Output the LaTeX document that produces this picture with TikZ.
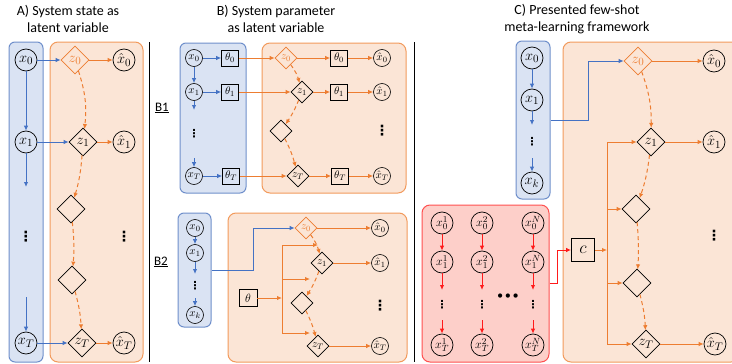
\documentclass[tikz,border=0pt]{standalone}
\usepackage{fontspec}
\setmainfont{Carlito}
\newfontfamily\symfont{DejaVu Sans}
\usetikzlibrary{arrows.meta,shapes.geometric}

\definecolor{bfill}{HTML}{DAE3F3}
\definecolor{bborder}{HTML}{6F8FCB}
\definecolor{barrow}{HTML}{4472C4}
\definecolor{ofill}{HTML}{FBE5D6}
\definecolor{oborder}{HTML}{F29A5C}
\definecolor{oarrow}{HTML}{ED7D31}
\definecolor{rfill}{HTML}{FDCFC9}
\definecolor{rborder}{HTML}{FF5050}
\definecolor{rarrow}{HTML}{FF1A1A}

\tikzset{
  ttl/.style={font=\fontsize{14}{16.5}\selectfont, align=center, inner sep=0pt},
  tag/.style={font=\fontsize{13}{13}\selectfont, inner sep=0pt},
  bluebox/.style={rounded corners=6pt, fill=bfill, draw=bborder, line width=1pt, inner sep=0pt},
  orangebox/.style={rounded corners=8pt, fill=ofill, draw=oborder, line width=1pt, inner sep=0pt},
  redbox/.style={rounded corners=8pt, fill=rfill, draw=rborder, line width=1pt, inner sep=0pt},
  cbig/.style={circle, draw, line width=0.7pt, minimum size=22pt, inner sep=0pt, font=\fontsize{15}{15}\selectfont},
  csmall/.style={circle, draw, line width=0.6pt, minimum size=17pt, inner sep=0pt, font=\fontsize{11}{11}\selectfont},
  dbig/.style={diamond, draw, line width=0.7pt, minimum size=28pt, inner sep=0pt, font=\fontsize{15}{15}\selectfont},
  dsmall/.style={diamond, draw, line width=0.6pt, minimum size=22pt, inner sep=0pt, font=\fontsize{11}{11}\selectfont},
  zfirst/.style={draw=oarrow, text=oarrow},
  sqsmall/.style={rectangle, draw, line width=0.7pt, minimum width=17pt, minimum height=16pt, inner sep=0pt, font=\fontsize{11}{11}\selectfont},
  vdot/.style={font=\symfont\bfseries\fontsize{14}{14}\selectfont, inner sep=0pt},
  vdots/.style={font=\symfont\bfseries\fontsize{11}{11}\selectfont, inner sep=0pt},
  tip/.style={-{Latex[length=5pt,width=4.5pt]}},
  barr/.style={draw=barrow, line width=1pt, tip},
  oarr/.style={draw=oarrow, line width=1pt, tip},
  rarr/.style={draw=rarrow, line width=1pt, tip},
  odash/.style={oarr, dash pattern=on 4pt off 3pt},
  sep/.style={draw=black, line width=1pt},
  rnode/.style={cbig, font=\fontsize{12.5}{12.5}\selectfont},
}

\begin{document}
\begin{tikzpicture}[x=1pt, y=-1pt]
\useasboundingbox (0,0) rectangle (732,364);

% ---------- titles ----------
\node[ttl] (tA) at (68,19) {A) System state as\\latent variable};
\node[ttl] (tB) at (276,19) {B) System parameter\\as latent variable};
\node[ttl] (tC) at (577,19) {C) Presented few-shot\\meta-learning framework};

% ---------- separators ----------
\coordinate (s1a) at (149,42); \coordinate (s1b) at (149,362);
\coordinate (s2a) at (414,42); \coordinate (s2b) at (414,362);
\draw[sep] (s1a) -- (s1b);
\draw[sep] (s2a) -- (s2b);

% ---------- group boxes ----------
\node[bluebox, minimum width=34pt, minimum height=320pt] (bA) at (26,202) {};
\node[orangebox, minimum width=93pt, minimum height=320pt] (oA) at (96.5,202) {};
\node[bluebox, minimum width=66pt, minimum height=150pt] (bB1) at (213,118) {};
\node[orangebox, minimum width=144pt, minimum height=150pt] (oB1) at (334,118) {};
\node[bluebox, minimum width=33pt, minimum height=114pt] (bB2) at (194.5,270) {};
\node[orangebox, minimum width=179pt, minimum height=149pt] (oB2) at (317.5,287.5) {};
\node[bluebox, minimum width=34pt, minimum height=158pt] (bC) at (533,120) {};
\node[orangebox, minimum width=176pt, minimum height=320pt] (oC) at (651,202) {};
\node[redbox, minimum width=127pt, minimum height=157pt] (rC) at (485.5,283.5) {};

% ---------- panel labels ----------
\node[tag] (lB1) at (162,108) {\underline{B1}};
\node[tag] (lB2) at (161,262) {\underline{B2}};

% ================= A) =================
\node[cbig] (xA0) at (26,60) {$x_0$};
\node[cbig] (xA1) at (26,142) {$x_1$};
\node[cbig] (xAT) at (26,343) {$x_T$};
\node[vdot] (vA1) at (26,237) {⋮};
\coordinate (aA1) at (26,187);
\coordinate (aA2) at (26,297);

\node[dbig, zfirst] (zA0) at (75,60) {$z_0$};
\node[dbig] (zA1) at (83,142) {$z_1$};
\node[dbig] (dA1) at (71,209) {};
\node[dbig] (dA2) at (72,280) {};
\node[dbig] (zAT) at (82,343) {$z_T$};

\node[cbig] (hA0) at (124,60) {$\hat{x}_0$};
\node[cbig] (hA1) at (124,142) {$\hat{x}_1$};
\node[cbig] (hAT) at (124,343) {$\hat{x}_T$};
\node[vdot] (vA2) at (124,237) {⋮};

\draw[barr] (xA0) -- (xA1);
\draw[barr] (xA1) -- (aA1);
\draw[barr] (aA2) -- (xAT);
\draw[barr] (xA0) -- (zA0);
\draw[barr] (xA1) -- (zA1);
\draw[barr] (xAT) -- (zAT);
\draw[oarr] (zA0) -- (hA0);
\draw[oarr] (zA1) -- (hA1);
\draw[oarr] (zAT) -- (hAT);
\draw[odash] (zA0) to[bend left=12] (zA1);
\draw[odash] (zA1) to[bend left=6] (dA1);
\draw[odash] (dA1) to[bend left=5] (dA2);
\draw[odash] (dA2) to[bend left=6] (zAT);

% ================= B1 =================
\node[csmall] (xB0) at (194,58) {$x_0$};
\node[csmall] (xB1) at (194,92) {$x_1$};
\node[csmall] (xBT) at (194,176) {$x_T$};
\node[vdots] (vB1) at (194,134) {⋮};
\coordinate (aB1) at (194,110);
\coordinate (aB2) at (194,158);
\node[sqsmall] (tB0) at (230,58) {$\theta_0$};
\node[sqsmall] (tB1) at (230,92) {$\theta_1$};
\node[sqsmall] (tBT) at (231,176) {$\theta_T$};

\node[dsmall, zfirst] (zB0) at (286,58) {$z_0$};
\node[dsmall] (zB1) at (302,92) {$z_1$};
\node[dsmall] (dB1) at (281,131) {};
\node[dsmall] (zBT) at (298,176) {$z_T$};
\node[sqsmall] (pB0) at (339,58) {$\theta_0$};
\node[sqsmall] (pB1) at (339,92) {$\theta_1$};
\node[sqsmall] (pBT) at (340,176) {$\theta_T$};
\node[csmall] (hB0) at (382,58) {$\hat{x}_0$};
\node[csmall] (hB1) at (382,92) {$\hat{x}_1$};
\node[csmall] (hBT) at (382,176) {$\hat{x}_T$};
\node[vdot] (vB2) at (382,131) {⋮};

\draw[barr] (xB0) -- (xB1);
\draw[barr] (xB1) -- (aB1);
\draw[barr] (aB2) -- (xBT);
\draw[barr] (xB0) -- (tB0);
\draw[barr] (xB1) -- (tB1);
\draw[barr] (xBT) -- (tBT);
\draw[oarr] (tB0) -- (zB0);
\draw[oarr] (tB1) -- (zB1);
\draw[oarr] (tBT) -- (zBT);
\draw[oarr] (zB0) -- (pB0);
\draw[oarr] (zB1) -- (pB1);
\draw[oarr] (zBT) -- (pBT);
\draw[oarr] (pB0) -- (hB0);
\draw[oarr] (pB1) -- (hB1);
\draw[oarr] (pBT) -- (hBT);
\draw[odash] (zB0) to[bend left=10] (zB1);
\draw[odash] (zB1) to[bend left=6] (dB1);
\draw[odash] (dB1) to[bend left=6] (zBT);

% ================= B2 =================
\node[csmall] (yB0) at (195,228) {$x_0$};
\node[csmall] (yB1) at (195,253) {$x_1$};
\node[vdots] (vB3) at (195,286) {⋮};
\node[csmall] (yBk) at (195,315) {$x_k$};
\coordinate (aB3) at (195,274);
\coordinate (aB4) at (195,298);

\node[dsmall, zfirst] (zC0) at (306,228) {$z_0$};
\node[dsmall] (zC1) at (322,263) {$z_1$};
\node[dsmall] (dC1) at (302,303) {};
\node[dsmall] (zCT) at (318,346) {$z_T$};
\node[csmall] (hC0) at (380,228) {$\hat{x}_0$};
\node[csmall] (hC1) at (380,263) {$\hat{x}_1$};
\node[csmall] (hCT) at (380,346) {$\hat{x}_T$};
\node[vdot] (vB4) at (380,306) {⋮};
\node[sqsmall, minimum width=18pt, minimum height=17pt, font=\fontsize{13}{13}\selectfont] (thB) at (248,298) {$\theta$};

\coordinate (kB2) at (253,270);
\coordinate (tkB) at (282,333);
\coordinate (eB1) at (318,245);
\coordinate (eB2) at (310,279);
\coordinate (eB3) at (310,333);

\draw[barr] (yB0) -- (yB1);
\draw[barr] (yB1) -- (aB3);
\draw[barr] (aB4) -- (yBk);
\draw[barr] (bB2.east) -- (kB2) |- (zC0.west);
\draw[oarr] (thB.east) -- (thB.east -| tkB);
\draw[oarr] (tkB) |- (eB1);
\draw[oarr] (tkB |- eB2) -- (eB2);
\draw[oarr] (tkB) -- (eB3);
\draw[oarr] (zC0) -- (hC0);
\draw[oarr] (zC1) -- (hC1);
\draw[oarr] (zCT) -- (hCT);
\draw[odash] (zC0) to[bend left=10] (zC1);
\draw[odash] (zC1) to[bend left=6] (dC1);
\draw[odash] (dC1) to[bend left=6] (zCT);

% ================= C) =================
\node[cbig] (xD0) at (532,58) {$x_0$};
\node[cbig] (xD1) at (532,100) {$x_1$};
\node[vdots] (vC1) at (532,142) {⋮};
\node[cbig] (xDk) at (532,183) {$x_k$};
\coordinate (aC1) at (532,125);
\coordinate (aC2) at (532,158);

\node[dbig, zfirst] (zD0) at (638,61) {$z_0$};
\node[dbig] (zD1) at (651,142) {$z_1$};
\node[dbig] (dD1) at (636,209) {};
\node[dbig] (dD2) at (637,283) {};
\node[dbig] (zDT) at (646,344) {$z_T$};
\node[cbig] (hD0) at (714,61) {$\hat{x}_0$};
\node[cbig] (hD1) at (714,142) {$\hat{x}_1$};
\node[cbig] (hDT) at (715,344) {$\hat{x}_T$};
\node[vdot] (vC2) at (714,236) {⋮};

\node[rectangle, draw, line width=0.8pt, minimum size=23pt, inner sep=0pt, font=\fontsize{17}{17}\selectfont] (cD) at (583,250) {$c$};

\coordinate (kC) at (588,120);
\coordinate (tkD) at (607,344);

\draw[barr] (xD0) -- (xD1);
\draw[barr] (xD1) -- (aC1);
\draw[barr] (aC2) -- (xDk);
\draw[barr] (bC.east) -- (kC) |- (zD0.west);
\draw[oarr] (cD.east) -- (cD.east -| tkD);
\draw[oarr] (tkD) |- (zD1.west);
\draw[oarr] (tkD |- dD1) -- (dD1.west);
\draw[oarr] (tkD |- dD2) -- (dD2.west);
\draw[oarr] (tkD) -- (zDT.west);
\draw[oarr] (zD0) -- (hD0);
\draw[oarr] (zD1) -- (hD1);
\draw[oarr] (zDT) -- (hDT);
\draw[odash] (zD0) to[bend left=10] (zD1);
\draw[odash] (zD1) to[bend left=6] (dD1);
\draw[odash] (dD1) to[bend left=4] (dD2);
\draw[odash] (dD2) to[bend left=6] (zDT);

% ---------- task set (red) ----------
\foreach \c/\x/\s in {a/442/1, b/482/2, n/533/N}{
  \node[rnode] (r\c0) at (\x,223) {$x_0^{\s}$};
  \node[rnode] (r\c1) at (\x,262) {$x_1^{\s}$};
  \node[vdots] (rv\c) at (\x,305) {⋮};
  \node[rnode] (r\c T) at (\x,345) {$x_T^{\s}$};
  \coordinate (ra\c) at (\x,290);
  \coordinate (rb\c) at (\x,320);
  \draw[rarr] (r\c0) -- (r\c1);
  \draw[rarr] (r\c1) -- (ra\c);
  \draw[rarr] (rb\c) -- (r\c T);
}
\node[font=\symfont\bfseries\fontsize{12}{12}\selectfont, inner sep=0pt] (rdots) at (508,297) {•••};
\coordinate (kR) at (557,283.5);
\draw[rarr] (rC.east) -- (kR) |- (cD.west);

\end{tikzpicture}
\end{document}
